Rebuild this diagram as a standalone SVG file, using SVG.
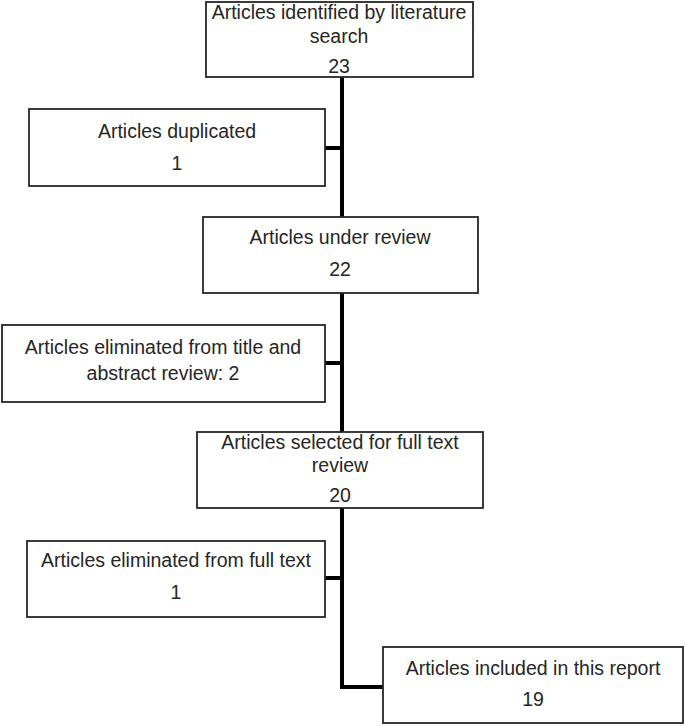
<svg xmlns="http://www.w3.org/2000/svg" width="685" height="726" viewBox="0 0 685 726">
<style>
.box{fill:#fff;stroke:#262626;stroke-width:1.8}
.t{font-family:"Liberation Sans",Arial,sans-serif;font-size:19.5px;fill:#262626;text-anchor:middle}
.c{fill:none;stroke:#000;stroke-width:4;stroke-linejoin:miter}
</style>
<rect width="685" height="726" fill="#fff"/>
<g id="connectors">
<path class="c" d="M342 77V217"/>
<path class="c" d="M325 148H342"/>
<path class="c" d="M342 293V432"/>
<path class="c" d="M325 363H342"/>
<path class="c" d="M342 508V687H383"/>
<path class="c" d="M325 578H342"/>
</g>
<g id="n1">
<rect class="box" x="206" y="2" width="267" height="75"/>
<text class="t" x="339" y="19">Articles identified by literature</text>
<text class="t" x="339" y="43">search</text>
<text class="t" x="339" y="73">23</text>
</g>
<g id="n2">
<rect class="box" x="29" y="109" width="296" height="77"/>
<text class="t" x="177" y="138">Articles duplicated</text>
<text class="t" x="177" y="170">1</text>
</g>
<g id="n3">
<rect class="box" x="203" y="217" width="275" height="76"/>
<text class="t" x="340" y="244">Articles under review</text>
<text class="t" x="340" y="276">22</text>
</g>
<g id="n4">
<rect class="box" x="2" y="325" width="323" height="77"/>
<text class="t" x="163" y="354">Articles eliminated from title and</text>
<text class="t" x="163" y="380">abstract review: 2</text>
</g>
<g id="n5">
<rect class="box" x="197" y="432" width="286" height="76"/>
<text class="t" x="340" y="449">Articles selected for full text</text>
<text class="t" x="340" y="472">review</text>
<text class="t" x="340" y="502">20</text>
</g>
<g id="n6">
<rect class="box" x="27" y="541" width="298" height="76"/>
<text class="t" x="176" y="567">Articles eliminated from full text</text>
<text class="t" x="176" y="599">1</text>
</g>
<g id="n7">
<rect class="box" x="383" y="647" width="300" height="76"/>
<text class="t" x="533" y="675">Articles included in this report</text>
<text class="t" x="533" y="706">19</text>
</g>
</svg>
